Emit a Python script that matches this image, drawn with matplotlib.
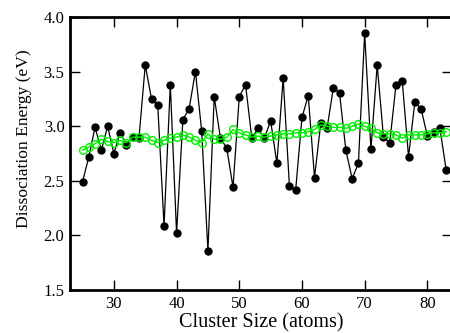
import matplotlib
matplotlib.use("Agg")
import matplotlib.pyplot as plt
import numpy as np

sizes = list(range(25, 84))
energy = [2.49, 2.72, 2.99, 2.78, 3.00, 2.75, 2.94, 2.83, 2.90, 2.89,
          3.56, 3.25, 3.19, 2.09, 3.38, 2.02, 3.06, 3.16, 3.50, 2.96,
          1.86, 3.27, 2.89, 2.80, 2.44, 3.27, 3.38, 2.89, 2.98, 2.89,
          3.05, 2.66, 3.44, 2.45, 2.42, 3.08, 3.28, 2.53, 3.03, 2.98,
          3.35, 3.30, 2.78, 2.52, 2.66, 3.85, 2.79, 3.56, 2.90, 2.85,
          3.38, 3.41, 2.72, 3.22, 3.16, 2.91, 2.95, 2.98, 2.60]
smooth = [2.78, 2.81, 2.84, 2.88, 2.86, 2.85, 2.87, 2.85, 2.90, 2.90,
          2.90, 2.87, 2.85, 2.87, 2.89, 2.90, 2.92, 2.90, 2.87, 2.85,
          2.93, 2.88, 2.88, 2.90, 2.97, 2.94, 2.92, 2.90, 2.91, 2.90,
          2.91, 2.92, 2.93, 2.93, 2.94, 2.94, 2.95, 2.97, 3.01, 3.00,
          2.99, 2.99, 2.98, 3.00, 3.02, 3.00, 2.98, 2.94, 2.93, 2.93,
          2.92, 2.89, 2.92, 2.92, 2.92, 2.93, 2.94, 2.94, 2.95]

plt.rcParams['font.family'] = ['Liberation Serif', 'DejaVu Serif']

fig = plt.figure(figsize=(4.5, 3.33), dpi=100)
ax = fig.add_axes([70/450, 1 - 290/333, 382/450, 273/333])

ax.plot(sizes, energy, color='black', lw=0.9, marker='o', ms=5,
        mfc='black', mec='black', zorder=2)
ax.plot(sizes, smooth, color='#00f000', lw=1.0, marker='o', ms=5.5,
        mfc='none', mec='#00f000', mew=1.0, zorder=3)

ax.set_xlim(23.0, 83.93)
ax.set_ylim(1.5, 4.0)
ax.set_xticks([30, 40, 50, 60, 70, 80])
ax.set_yticks([1.5, 2.0, 2.5, 3.0, 3.5, 4.0])
ax.set_yticklabels(['1.5', '2.0', '2.5', '3.0', '3.5', '4.0'])
ax.tick_params(direction='in', length=7.5, width=1, top=True, right=True,
               labelsize=12, pad=4)
for s in ax.spines.values():
    s.set_linewidth(2)

ax.set_xlabel('Cluster Size (atoms)', fontsize=14.5, labelpad=1)
ax.set_ylabel('Dissociation Energy (eV)', fontsize=12.6)
ax.yaxis.label.set_va('center')
ax.yaxis.set_label_coords(24/450, 1 - 139/333, transform=fig.transFigure)

fig.savefig('out.png', dpi=100)
